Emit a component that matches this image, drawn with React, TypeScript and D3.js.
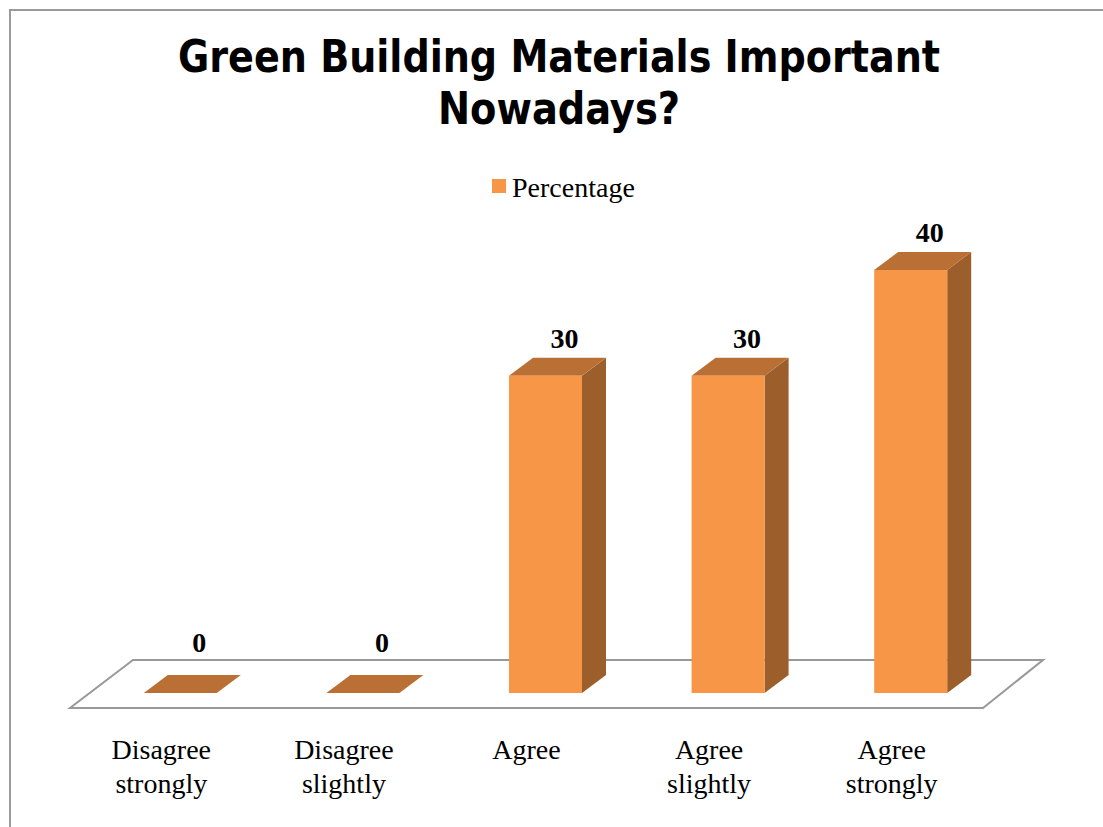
import React from "react";
import * as d3 from "d3";

const categories: string[][] = [
  ["Disagree", "strongly"],
  ["Disagree", "slightly"],
  ["Agree"],
  ["Agree", "slightly"],
  ["Agree", "strongly"],
];
const values: number[] = [0, 0, 30, 30, 40];
const seriesName = "Percentage";
const titleLines = ["Green Building Materials Important", "Nowadays?"];

const W = 1103;
const H = 827;

const FRONT_COLOR = "#F79646";
const TOP_COLOR = "#BA7034";
const SIDE_COLOR = "#9C5F2C";

export default function App() {
  const floorFrontY = 708;
  const floorBackY = 660;
  const floorFrontX0 = 70;
  const floorFrontX1 = 983;
  const floorShift = 61;

  const x = d3
    .scaleBand<number>()
    .domain(d3.range(categories.length))
    .range([floorFrontX0, floorFrontX1])
    .paddingInner(0)
    .paddingOuter(0);

  const y = d3.scaleLinear().domain([0, 40]).range([693, 270]);

  const barW = 73;
  const depthX = 24;
  const depthY = -18;
  const barOffset = 19;

  const floorPts: [number, number][] = [
    [floorFrontX0, floorFrontY],
    [floorFrontX1, floorFrontY],
    [floorFrontX1 + floorShift - 1, floorBackY],
    [floorFrontX0 + floorShift + 2, floorBackY],
  ];
  const line = d3.line();

  return (
    <svg
      width={W}
      height={H}
      style={{ position: "absolute", left: 0, top: 0, background: "#fff" }}
    >
      <path d={`M10,${H} L10,10 L${W},10`} fill="none" stroke="#9a9a9a" strokeWidth={2} />

      <g fontFamily="'DejaVu Sans Condensed', 'DejaVu Sans', sans-serif" fontWeight="bold" fontSize={44} fill="#000" textAnchor="middle">
        <text x={559} y={72} textLength={762} lengthAdjust="spacingAndGlyphs">{titleLines[0]}</text>
        <text x={559} y={124} textLength={242} lengthAdjust="spacingAndGlyphs">{titleLines[1]}</text>
      </g>

      <rect x={492} y={179} width={14} height={14} fill={FRONT_COLOR} />
      <text x={512} y={197} fontFamily="'Liberation Serif', 'Times New Roman', serif" fontSize={28} fill="#000">
        {seriesName}
      </text>

      <path d={line(floorPts)! + "Z"} fill="#fff" stroke="#999" strokeWidth={2} />

      {values.map((v, i) => {
        const cx = (x(i) as number) + x.bandwidth() / 2 + barOffset;
        const x0 = cx - barW / 2;
        const x1 = cx + barW / 2;
        const yb = y(0);
        const yt = y(v);
        if (v === 0) {
          const pts: [number, number][] = [
            [x0, yb],
            [x1, yb],
            [x1 + depthX, yb + depthY],
            [x0 + depthX, yb + depthY],
          ];
          return <path key={i} d={line(pts)! + "Z"} fill={TOP_COLOR} />;
        }
        const front: [number, number][] = [
          [x0, yb],
          [x1, yb],
          [x1, yt],
          [x0, yt],
        ];
        const side: [number, number][] = [
          [x1, yb],
          [x1 + depthX, yb + depthY],
          [x1 + depthX, yt + depthY],
          [x1, yt],
        ];
        const top: [number, number][] = [
          [x0, yt],
          [x1, yt],
          [x1 + depthX, yt + depthY],
          [x0 + depthX, yt + depthY],
        ];
        return (
          <g key={i}>
            <path d={line(side)! + "Z"} fill={SIDE_COLOR} />
            <path d={line(top)! + "Z"} fill={TOP_COLOR} />
            <path d={line(front)! + "Z"} fill={FRONT_COLOR} />
          </g>
        );
      })}

      <g fontFamily="'Liberation Serif', 'Times New Roman', serif" fontWeight="bold" fontSize={28} fill="#000" textAnchor="middle">
        {values.map((v, i) => {
          const cx = (x(i) as number) + x.bandwidth() / 2 + barOffset + 19;
          const yy = v === 0 ? y(v) + depthY - 23 : y(v) + depthY - 10;
          return (
            <text key={i} x={cx} y={yy}>
              {v}
            </text>
          );
        })}
      </g>

      <g fontFamily="'Liberation Serif', 'Times New Roman', serif" fontSize={28} fill="#000" textAnchor="middle">
        {categories.map((lines, i) => {
          const cx = (x(i) as number) + x.bandwidth() / 2;
          return (
            <text key={i} x={cx} y={759}>
              {lines.map((l, j) => (
                <tspan key={j} x={cx} dy={j === 0 ? 0 : 34}>
                  {l}
                </tspan>
              ))}
            </text>
          );
        })}
      </g>
    </svg>
  );
}
